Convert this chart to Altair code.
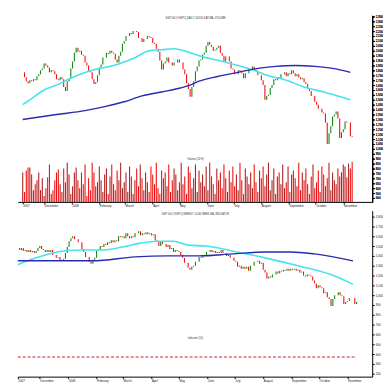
import altair as alt
import pandas as pd

start_date = "2007-11-07"

top_close = [1780,1730,1690,1670,1700,1690,1710,1700,1740,1760,
             1800,1820,1870,1850,1830,1780,1800,1790,1760,1710,
             1700,1730,1710,1630,1590,1690,1720,1820,1890,1980,
             2030,1990,2000,1960,1950,1880,1850,1790,1780,1710,
             1660,1680,1750,1830,1860,1930,1930,1980,1970,2000,
             1980,1970,1910,1880,1950,1990,2070,2100,2150,2150,
             2180,2170,2200,2200,2190,2130,2130,2090,2120,2120,
             2150,2140,2130,2080,2070,2020,1990,1900,1810,1870,
             1890,1930,1880,1880,1850,1880,1880,1910,1880,1880,
             1810,1760,1670,1610,1530,1630,1690,1790,1840,1900,
             1910,1960,1980,2050,2090,2060,2040,2000,2010,2030,
             2050,1980,1950,1890,1940,1940,1890,1820,1810,1760,
             1760,1800,1790,1770,1720,1770,1770,1810,1810,1840,
             1810,1790,1750,1750,1700,1650,1500,1540,1550,1620,
             1650,1710,1700,1730,1720,1760,1760,1780,1740,1770,
             1760,1800,1770,1740,1760,1730,1710,1720,1680,1660,
             1610,1590,1540,1540,1480,1450,1410,1410,1370,1360,
             1270,1050,1160,1230,1330,1350,1380,1310,1110,1170,
             1200,1280,1270,1270,1130,1120]

bot_close = [1480,1460,1480,1450,1460,1440,1460,1440,1450,1430,
             1450,1480,1500,1470,1460,1440,1460,1440,1460,1410,
             1410,1380,1390,1350,1360,1370,1430,1490,1550,1580,
             1600,1570,1570,1540,1540,1470,1440,1390,1390,1340,
             1320,1360,1380,1450,1460,1500,1490,1520,1510,1540,
             1530,1560,1540,1560,1550,1600,1590,1600,1580,1630,
             1600,1580,1600,1590,1630,1630,1650,1610,1630,1620,
             1640,1620,1630,1610,1620,1560,1550,1500,1550,1520,
             1520,1490,1510,1470,1480,1440,1460,1450,1440,1410,
             1380,1330,1330,1280,1260,1290,1300,1340,1340,1390,
             1380,1410,1400,1440,1440,1460,1440,1450,1430,1440,
             1430,1460,1430,1430,1400,1410,1380,1380,1350,1340,
             1290,1300,1270,1290,1270,1290,1250,1300,1300,1340,
             1340,1350,1320,1330,1260,1230,1170,1190,1180,1210,
             1210,1240,1220,1250,1240,1260,1250,1270,1250,1270,
             1260,1270,1250,1260,1230,1240,1200,1190,1210,1200,
             1190,1150,1120,1070,1100,1080,1070,1020,1030,980,
             960,890,960,1000,1000,1030,1000,990,910,930,
             940,970,970,970,910,930]

volume = [3000,1000,3200,3500,3500,2800,1200,1800,2200,3000,
          1200,2400,600,1400,2500,3800,800,1200,2200,3000,
          3300,1800,1000,3400,2000,4000,2800,800,1600,3000,
          3500,2200,1400,3000,1800,3800,600,2400,1200,4000,
          3000,1600,2000,3600,2200,1000,2800,3400,800,2600,
          3800,1800,1200,3200,2200,4000,1400,2000,3000,1000,
          3600,2600,800,2200,3400,1600,3800,2400,1200,3000,
          2000,1000,3600,2800,1800,4000,1400,800,3200,2400,
          3000,1600,3800,1000,2200,3400,2800,1200,2000,4000,
          1800,2600,800,3600,3000,1400,2400,3800,1000,3200,
          2000,2800,1600,3600,1200,4000,2600,1800,800,3400,
          2200,3000,1400,3800,2400,1000,3200,2000,3600,1600,
          2800,1200,4000,2200,800,3400,2600,1800,3000,1400,
          3800,2000,1000,3200,2400,3600,1600,2800,4000,1200,
          2200,3400,800,2600,3000,1800,3800,1400,2000,3600,
          1000,2800,3200,2400,1600,4000,1200,3000,2200,3400,
          1800,800,2600,3800,1400,2000,3200,1000,3600,2800,
          1600,2400,4000,1200,3000,2200,1800,3400,2600,3000,
          3800,3600,2500,3900,3400,4100]

top_ma50_idx = [0, 4, 12, 19, 27, 37, 53, 62, 71, 78, 85, 94, 99, 110, 121, 130, 137, 148, 158, 169, 177, 184]
top_ma50 = [1450, 1500, 1600, 1650, 1720, 1790, 1860, 1920, 2000, 2010, 2020, 1980, 1950, 1900, 1850, 1800, 1750, 1700, 1630, 1580, 1540, 1500]
top_ma200_idx = [0, 19, 35, 46, 57, 67, 78, 86, 94, 99, 110, 121, 132, 142, 153, 164, 174, 184]
top_ma200 = [1300, 1350, 1390, 1430, 1480, 1540, 1580, 1610, 1650, 1690, 1740, 1780, 1820, 1840, 1850, 1840, 1820, 1780]

bot_ma50_idx = [0, 10, 25, 35, 46, 57, 67, 76, 85, 93, 103, 117, 135, 153, 171, 183]
bot_ma50 = [1310, 1380, 1450, 1460, 1460, 1490, 1530, 1550, 1550, 1510, 1500, 1450, 1380, 1300, 1210, 1110]
bot_ma200_idx = [0, 19, 41, 64, 82, 99, 117, 135, 149, 162, 183]
bot_ma200 = [1350, 1350, 1350, 1390, 1400, 1400, 1420, 1440, 1440, 1420, 1350]

indicator_level = 370

month_ticks = [(2007, 11, 7), (2007, 12, 1), (2008, 1, 1), (2008, 2, 1), (2008, 3, 1),
               (2008, 4, 1), (2008, 5, 1), (2008, 6, 1), (2008, 7, 1), (2008, 8, 1),
               (2008, 9, 1), (2008, 10, 1), (2008, 11, 1)]
x_end = (2008, 11, 28)

top_title = "S&P 500 (^GSPC) DAILY, 50/200 DAY MA, VOLUME"
bot_title = "S&P 500 (^GSPC) WEEKLY, 10/40 WEEK MA, INDICATOR"
vol_label = "Volume (10^6)"
ind_label = "Indicator (14)"

N = len(top_close)
dates = list(pd.date_range(start_date, periods=N, freq="2D").strftime("%Y-%m-%d"))


def dt(t):
    return alt.DateTime(year=t[0], month=t[1], date=t[2], utc=True)


xscale = alt.Scale(type="utc", domain=[dt(month_ticks[0]), dt(x_end)], nice=False)
xaxis = alt.Axis(
    values=[dt(t) for t in month_ticks],
    labelExpr="datum.index == 0 ? '2007' : (utcFormat(datum.value, '%m') == '01' ? utcFormat(datum.value, '%Y') : utcFormat(datum.value, '%B'))",
    labelFontSize=3, labelAlign="left", tickSize=2, labelPadding=1,
    title=None, grid=False, domainColor="black", tickColor="black", labelColor="#222",
)


def X(field="date"):
    return alt.X(f"{field}:T", scale=xscale, axis=xaxis)


def ohlc(close, vol=None):
    opens = [close[0]] + close[:-1]
    d = {"date": dates, "open": opens, "close": close,
         "color": ["#118811" if c >= o else "#ee1111" for o, c in zip(opens, close)]}
    if vol is not None:
        d["vol"] = vol
        d["vcolor"] = ["#b02020" if c >= o else "#f01010" for o, c in zip(opens, close)]
    return pd.DataFrame(d)


def ma_frame(idx, vals):
    return pd.DataFrame({"date": [dates[i] for i in idx], "value": vals})


def panel(close, ma50i, ma50, ma200i, ma200, domain, tick_count, title, extra_layers):
    df = ohlc(close)
    yaxis = alt.Axis(orient="right", tickCount=tick_count, labelFontSize=3, tickSize=2,
                     labelPadding=1, grid=False, title=None, domainColor="black",
                     tickColor="black", labelColor="#222")
    yscale = alt.Scale(domain=domain, nice=False, zero=False)
    bars = alt.Chart(df).mark_rule(strokeWidth=1.1).encode(
        x=X(), y=alt.Y("open:Q", scale=yscale, axis=yaxis), y2="close:Q",
        color=alt.Color("color:N", scale=None))
    m50 = alt.Chart(ma_frame(ma50i, ma50)).mark_line(
        color="#46e3ef", strokeWidth=1.6, interpolate="monotone").encode(
        x=X(), y=alt.Y("value:Q", scale=yscale, axis=yaxis))
    m200 = alt.Chart(ma_frame(ma200i, ma200)).mark_line(
        color="#2a2ab0", strokeWidth=1.4, interpolate="monotone").encode(
        x=X(), y=alt.Y("value:Q", scale=yscale, axis=yaxis))
    ttl = alt.Chart(pd.DataFrame({"t": [title]})).mark_text(
        fontSize=2.6, color="#333").encode(text="t:N", x=alt.value(181), y=alt.value(3))
    return [bars, m50, m200, ttl] + extra_layers


W = 361
H1 = 190
H2 = 169

vol_df = ohlc(top_close, volume)
vol_bars = alt.Chart(vol_df).mark_bar(width=1.1).encode(
    x=X(), y=alt.Y("vol:Q", scale=alt.Scale(domain=[0, 19000]), axis=None),
    color=alt.Color("vcolor:N", scale=None))
vol_txt = alt.Chart(pd.DataFrame({"t": [vol_label]})).mark_text(
    fontSize=2.6, color="#333").encode(text="t:N", x=alt.value(181), y=alt.value(146))

top_layers = panel(top_close, top_ma50_idx, top_ma50, top_ma200_idx, top_ma200,
                   [460, 2360], 40, top_title, [vol_txt])
top = alt.layer(vol_bars, *top_layers).resolve_scale(y="independent").properties(width=W, height=H1)

dash_df = pd.DataFrame({"d0": [dates[0]], "d1": [dates[-1]], "lvl": [indicator_level]})
bot_scale = alt.Scale(domain=[170, 1860], nice=False, zero=False)
dash = alt.Chart(dash_df).mark_rule(strokeDash=[3, 2], color="#c02020", strokeWidth=1).encode(
    x=X("d0"), x2="d1:T", y=alt.Y("lvl:Q", scale=bot_scale))
ind_txt = alt.Chart(pd.DataFrame({"t": [ind_label]})).mark_text(
    fontSize=2.6, color="#333").encode(text="t:N", x=alt.value(181), y=alt.value(130))

bot_layers = panel(bot_close, bot_ma50_idx, bot_ma50, bot_ma200_idx, bot_ma200,
                   [170, 1860], 20, bot_title, [dash, ind_txt])
bottom = alt.layer(*bot_layers).properties(width=W, height=H2)

chart = alt.vconcat(top, bottom, spacing=3).properties(
    padding={"left": 6, "top": 4, "right": 0, "bottom": 0},
    background="white",
).configure_view(stroke=None)

chart.save("out.html", embed_options={"renderer": "svg", "actions": False})
